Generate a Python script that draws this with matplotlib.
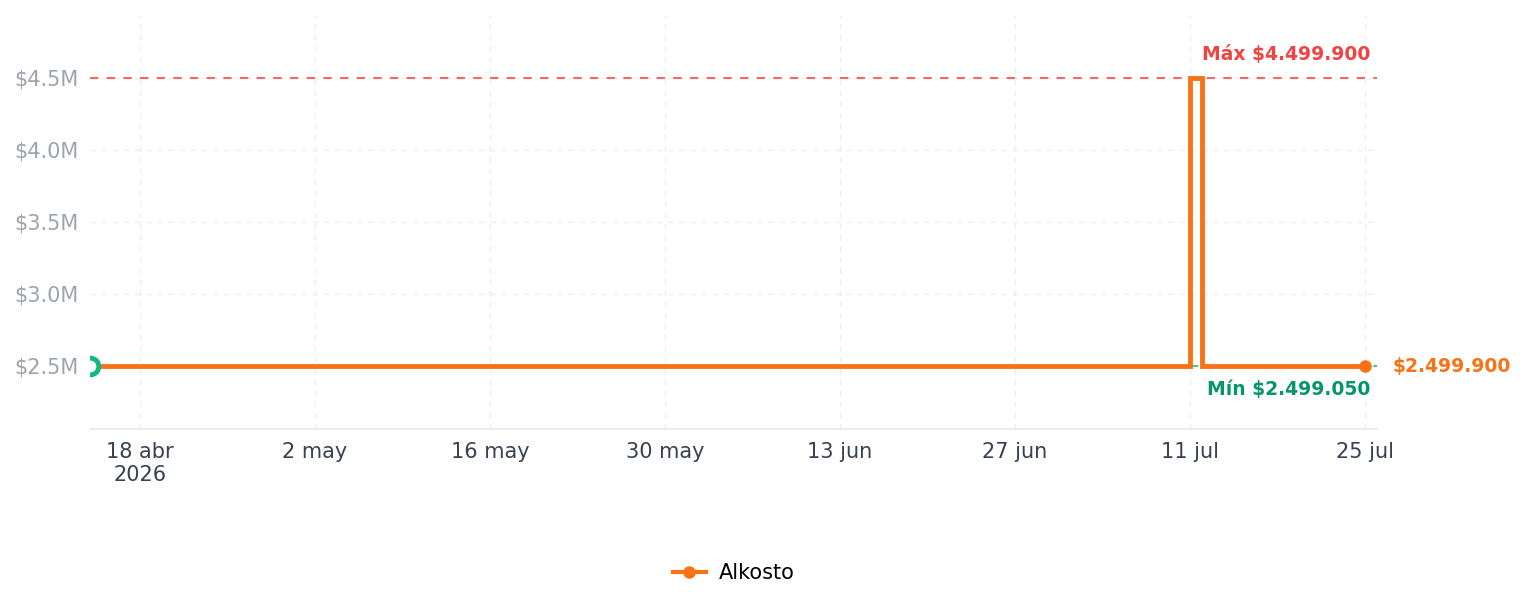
import matplotlib
matplotlib.use("Agg")
import matplotlib.pyplot as plt
from matplotlib.lines import Line2D
from datetime import datetime

# Datos
fechas = ["2026-04-14", "2026-04-15", "2026-07-11", "2026-07-12", "2026-07-25"]
precios = [2499050, 2499900, 4499900, 2499900, 2499900]
tienda = "Alkosto"
precio_max = 4499900
precio_min = 2499050
precio_actual = 2499900

ticks_fechas = ["2026-04-18", "2026-05-02", "2026-05-16", "2026-05-30",
                "2026-06-13", "2026-06-27", "2026-07-11", "2026-07-25"]
ticks_labels = ["18 abr\n2026", "2 may", "16 may", "30 may", "13 jun", "27 jun", "11 jul", "25 jul"]
y_ticks = [2.5e6, 3.0e6, 3.5e6, 4.0e6, 4.5e6]
y_labels = ["$2.5M", "$3.0M", "$3.5M", "$4.0M", "$4.5M"]

NARANJA = "#f97316"
VERDE = "#10b981"
VERDE_TXT = "#059669"
ROJO = "#ef4444"


def pesos(v):
    return f"${v:,}".replace(",", ".")


x = [datetime.fromisoformat(f) for f in fechas]

fig = plt.figure(figsize=(15.24, 6.07), dpi=100)
ax = fig.add_axes([90 / 1524, 1 - 429 / 607, (1377 - 90) / 1524, (429 - 15) / 607])

ax.axhline(precio_max, color=ROJO, lw=1.5, ls=(0, (4, 4)), alpha=0.8, zorder=2)
ax.axhline(precio_min, color=VERDE, lw=1.5, ls=(0, (4, 4)), alpha=0.8, zorder=2)

ax.plot(x, precios, drawstyle="steps-post", color=NARANJA, lw=3.5,
        solid_joinstyle="miter", zorder=3, label=tienda)
ax.plot([x[-1]], [precios[-1]], "o", color=NARANJA, ms=8, zorder=4)
ax.plot([x[0]], [precios[0]], "o", mfc="white", mec=VERDE, mew=3.5, ms=12, zorder=5)

ax.set_xlim(datetime(2026, 4, 14), datetime(2026, 7, 26))
ax.set_ylim(2.0625e6, 4.9375e6)

ax.set_xticks([datetime.fromisoformat(t) for t in ticks_fechas])
ax.set_xticklabels(ticks_labels)
ax.set_yticks(y_ticks)
ax.set_yticklabels(y_labels)

ax.tick_params(axis="x", colors="#374151", labelsize=15, length=0, pad=9)
ax.tick_params(axis="y", colors="#9ca3af", labelsize=15, length=0, pad=8)

ax.grid(True, color="#e5e7eb", ls=(0, (4, 4)), lw=1, alpha=0.7)
for s in ["top", "right", "left"]:
    ax.spines[s].set_visible(False)
ax.spines["bottom"].set_color("#e5e7eb")
ax.spines["bottom"].set_linewidth(1.2)

ax.annotate(f"Máx {pesos(precio_max)}", xy=(1.0, precio_max),
            xycoords=("axes fraction", "data"), xytext=(-5, 10), textcoords="offset points",
            ha="right", va="bottom", color=ROJO, fontsize=13.5, fontweight="bold")
ax.annotate(f"Mín {pesos(precio_min)}", xy=(1.0, precio_min),
            xycoords=("axes fraction", "data"), xytext=(-5, -10), textcoords="offset points",
            ha="right", va="top", color=VERDE_TXT, fontsize=13.5, fontweight="bold")
ax.annotate(pesos(precio_actual), xy=(1.0, precio_actual),
            xycoords=("axes fraction", "data"), xytext=(11, 0), textcoords="offset points",
            ha="left", va="center", color=NARANJA, fontsize=13.5, fontweight="bold",
            annotation_clip=False)

# leyenda centrada bajo el área del gráfico
handle = Line2D([], [], color=NARANJA, lw=3, marker="o", ms=8)
ax.legend([handle], [tienda], loc="center", bbox_to_anchor=(0.5, -0.348),
          frameon=False, fontsize=15, handlelength=1.6, handletextpad=0.6)

fig.savefig("out.png", dpi=100)
